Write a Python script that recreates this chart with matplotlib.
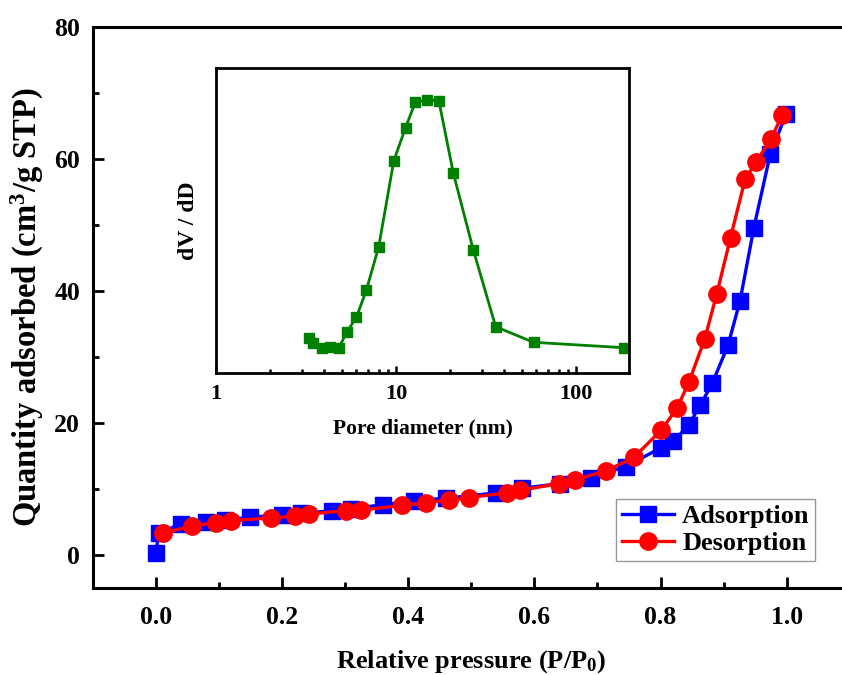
import matplotlib.pyplot as plt
from matplotlib.ticker import MultipleLocator, LogLocator, NullFormatter, FixedLocator

plt.rcParams['font.family'] = 'Liberation Serif'
plt.rcParams['font.weight'] = 'bold'
plt.rcParams['axes.labelweight'] = 'bold'
plt.rcParams['mathtext.fontset'] = 'custom'
plt.rcParams['mathtext.rm'] = 'Liberation Serif:bold'
plt.rcParams['mathtext.default'] = 'rm'

# isotherm data (relative pressure, quantity adsorbed)
ads_p = [0.0, 0.005, 0.04, 0.08, 0.11, 0.15, 0.2, 0.23, 0.28, 0.31, 0.36, 0.41,
         0.46, 0.54, 0.58, 0.64, 0.69, 0.745, 0.80, 0.82, 0.845, 0.863, 0.882,
         0.907, 0.926, 0.948, 0.974, 0.999]
ads_q = [0.3, 3.3, 4.7, 5.0, 5.3, 5.7, 6.1, 6.3, 6.7, 7.0, 7.6, 8.2,
         8.6, 9.4, 10.1, 10.8, 11.7, 13.4, 16.2, 17.2, 19.7, 22.7, 26.0,
         31.8, 38.5, 49.6, 60.8, 66.8]
des_p = [0.011, 0.058, 0.095, 0.12, 0.182, 0.22, 0.243, 0.301, 0.325, 0.391,
         0.428, 0.465, 0.497, 0.556, 0.578, 0.639, 0.664, 0.713, 0.758, 0.801,
         0.826, 0.845, 0.870, 0.889, 0.911, 0.934, 0.951, 0.975, 0.993]
des_q = [3.3, 4.4, 4.9, 5.2, 5.6, 5.9, 6.2, 6.7, 6.8, 7.5,
         7.9, 8.3, 8.7, 9.4, 9.8, 10.8, 11.4, 12.7, 14.8, 18.9,
         22.2, 26.2, 32.7, 39.5, 48.1, 56.9, 59.5, 63.0, 66.7]

# pore size distribution (inset), arbitrary units
pore_d = [3.27, 3.48, 3.88, 4.32, 4.80, 5.35, 6.03, 6.85, 8.02, 9.72, 11.3,
          12.8, 14.8, 17.3, 20.8, 26.9, 35.8, 58.1, 184.5]
pore_v = [0.347, 0.297, 0.247, 0.263, 0.247, 0.413, 0.557, 0.83, 1.263, 2.12,
          2.453, 2.707, 2.73, 2.723, 2.003, 1.23, 0.463, 0.307, 0.253]

fig = plt.figure(figsize=(8.42, 6.75), dpi=100)
ax = fig.add_axes([0.110, 0.129, 0.8993, 0.831])

ax.plot(ads_p, ads_q, color='blue', marker='s', ms=11, lw=2.4, label='Adsorption')
ax.plot(des_p, des_q, color='red', marker='o', ms=12.5, lw=2.4, label='Desorption')

ax.set_xlim(-0.1, 1.1)
ax.set_ylim(-5, 80)
ax.xaxis.set_major_locator(FixedLocator([0.0, 0.2, 0.4, 0.6, 0.8, 1.0]))
ax.xaxis.set_minor_locator(MultipleLocator(0.1))
ax.yaxis.set_major_locator(MultipleLocator(20))
ax.yaxis.set_minor_locator(MultipleLocator(10))
ax.tick_params(which='both', direction='in', width=2, labelsize=18.5, top=False, right=False)
ax.tick_params(which='major', length=8)
ax.tick_params(which='minor', length=4.5)
ax.tick_params(axis='x', pad=13)
ax.tick_params(axis='y', pad=9)
for s in ax.spines.values():
    s.set_linewidth(2.2)

ax.set_xlabel('Relative pressure (P/P$_{0}$)', fontsize=19, labelpad=14)
ax.set_ylabel('Quantity adsorbed (cm$^{3}$/g STP)', fontsize=23.5, labelpad=6)

leg = ax.legend(loc='lower right', bbox_to_anchor=(0.954, 0.0486), fontsize=19,
                frameon=True, fancybox=False, edgecolor='gray', borderpad=0.2,
                handlelength=2.0, handletextpad=0.3, labelspacing=0.15, borderaxespad=0)
leg.get_frame().set_linewidth(1.0)

# inset
ins = fig.add_axes([0.2565, 0.4474, 0.4905, 0.4519])
ins.plot(pore_d, pore_v, color='green', marker='s', ms=7.5, lw=2)
ins.set_xscale('log')
ins.set_xlim(1, 197)
ins.set_ylim(0, 3.05)
ins.set_yticks([])
ins.xaxis.set_major_locator(LogLocator(base=10))
ins.xaxis.set_minor_locator(LogLocator(base=10, subs=range(2, 10)))
ins.xaxis.set_minor_formatter(NullFormatter())
ins.set_xticks([1, 10, 100], ['1', '10', '100'])
ins.tick_params(which='both', direction='in', width=1.8, labelsize=16, pad=8)
ins.tick_params(which='major', length=5)
ins.tick_params(which='minor', length=3)
for s in ins.spines.values():
    s.set_linewidth(2)
ins.set_xlabel('Pore diameter (nm)', fontsize=15.5, labelpad=10)
ins.set_ylabel('dV / dD', fontsize=17, labelpad=12)

fig.savefig('out.png', dpi=100)
